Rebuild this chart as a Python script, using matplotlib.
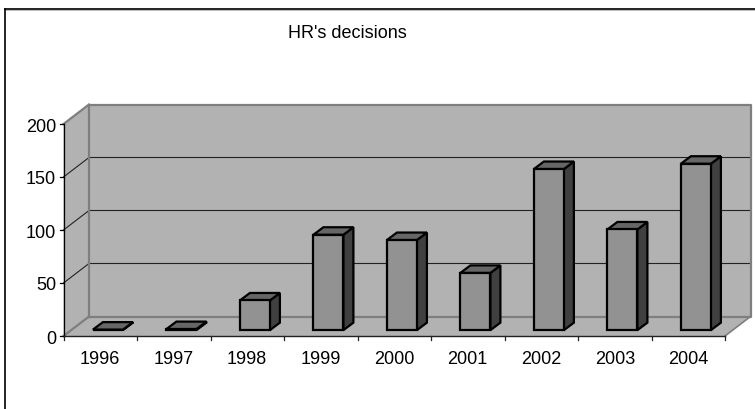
import matplotlib
matplotlib.use('Agg')
import matplotlib.pyplot as plt
from matplotlib.lines import Line2D

plt.rcParams['font.family'] = ['Liberation Sans', 'DejaVu Sans']

years = ['1996', '1997', '1998', '1999', '2000', '2001', '2002', '2003', '2004']
decisions = [0.5, 1, 28, 90, 85, 54, 152, 95, 157]
yticks = [0, 50, 100, 150, 200]
title = "HR's decisions"

W, H = 755, 409
# pixel position of the chart's origin and scale of both axes
X0, Y0 = 63.5, 336.0
XS, YS = 73.5, 1.06
# 3d look, in data units
DX, DY = 25.5 / XS, 19.5 / YS
BAR_W = 30 / XS
BAR_DX, BAR_DY = 10 / XS, 7.5 / YS
BASE_DX, BASE_DY = 0.3 * DX, 0.3 * DY

WALL = '#b2b2b2'
WALL_EDGE = '#7f7f7f'
FRONT = '#929292'
TOP = '#666666'
SIDE = '#404040'

fig = plt.figure(figsize=(W / 100, H / 100), dpi=100)
ax = fig.add_axes([0, 0, 1, 1])
ax.set_xlim(-X0 / XS, (W - X0) / XS)
ax.set_ylim((Y0 - H) / YS, Y0 / YS)
ax.axis('off')

n = len(years)
ymax = max(yticks)

# outer frame, only top and left are inside the picture
fig.add_artist(Line2D([4.5 / W, 4.5 / W], [0, 1 - 8.5 / H], color='black', lw=1.2))
fig.add_artist(Line2D([4.5 / W, 1], [1 - 8.5 / H, 1 - 8.5 / H], color='black', lw=1.2))
fig.add_artist(Line2D([5.5 / W, 1], [1 - 10 / H, 1 - 10 / H], color='#bbbbbb', lw=0.7))

# floor, side wall and back wall
ax.fill([0, n, n + DX, DX], [0, 0, DY, DY], color=WALL, lw=0, zorder=1)
ax.fill([0, DX, DX, 0], [0, DY, ymax + DY, ymax], color=WALL, lw=0, zorder=1)
ax.fill([DX, n + DX, n + DX, DX], [DY, DY, ymax + DY, ymax + DY], color=WALL, lw=0, zorder=1)

for v in yticks[1:-1]:
    ax.plot([0, DX, n + DX], [v, v + DY, v + DY], color='#222222', lw=0.8, zorder=2)

ax.plot([DX, n + DX, n + DX, DX, DX], [DY, DY, ymax + DY, ymax + DY, DY], color=WALL_EDGE, lw=1.6, zorder=2)
ax.plot([0, DX], [ymax, ymax + DY], color=WALL_EDGE, lw=1.6, zorder=2)
ax.plot([0, DX], [0, DY], color=WALL_EDGE, lw=1.6, zorder=2)
ax.plot([n, n + DX], [0, DY], color=WALL_EDGE, lw=1.2, zorder=2)

# bars
for i, val in enumerate(decisions):
    left = i + 0.5 + BASE_DX - BAR_W / 2
    right = left + BAR_W
    b = BASE_DY
    t = b + val
    z = 3 + i
    ax.fill([right, right + BAR_DX, right + BAR_DX, right], [b, b + BAR_DY, t + BAR_DY, t],
            facecolor=SIDE, edgecolor='black', lw=1.6, zorder=z, joinstyle='miter')
    ax.fill([left, right, right + BAR_DX, left + BAR_DX], [t, t, t + BAR_DY, t + BAR_DY],
            facecolor=TOP, edgecolor='black', lw=1.6, zorder=z, joinstyle='miter')
    ax.fill([left, right, right, left], [b, b, t, t],
            facecolor=FRONT, edgecolor='black', lw=1.6, zorder=z, joinstyle='miter')

# axes lines and ticks
ax.plot([0, 0], [0, ymax], color='black', lw=0.9, zorder=20)
ax.plot([0, n], [0, 0], color='#222222', lw=1.0, zorder=20)
tick_x = 3.5 / XS
tick_y = 4 / YS
for v in yticks:
    ax.plot([-tick_x, 0], [v, v], color='black', lw=0.9, zorder=20)
    ax.text(-7.5 / XS, v - 1 / YS, str(v), ha='right', va='center_baseline', fontsize=13, color='black')
for i in range(n + 1):
    ax.plot([i, i], [0, -tick_y], color='#222222', lw=0.9, zorder=20)
for i, y in enumerate(years):
    ax.text(i + 0.5, -22 / YS, y, ha='center', va='center_baseline', fontsize=13, color='black')

ax.text((347.5 - X0) / XS, (Y0 - 32) / YS, title, ha='center', va='center_baseline', fontsize=13, color='black')

fig.savefig('out.png', dpi=100)
